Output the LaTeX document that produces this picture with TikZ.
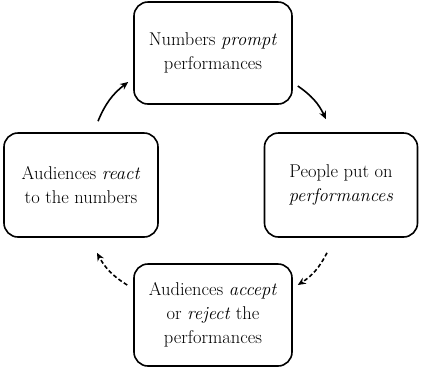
\documentclass[tikz,border=0pt]{standalone}
\usetikzlibrary{calc,arrows.meta}
\begin{document}
\begin{tikzpicture}[x=1pt,y=-1pt,
  box/.style={draw,line width=1.6pt,rounded corners=14pt,minimum width=158pt,minimum height=102pt,align=center,inner sep=0pt,font=\fontsize{18.5}{24}\selectfont},
  arr/.style={-{Stealth[length=8pt,width=7pt]},line width=1.6pt},
  darr/.style={arr,dash pattern=on 4pt off 2.5pt}]
\useasboundingbox (0,0) rectangle (421,368);
\node[box] (top) at (213,53) {Numbers \textit{prompt}\\performances};
\node[box,minimum width=154pt,minimum height=104pt] (left) at (81,185) {Audiences \textit{react}\\to the numbers};
\node[box,minimum width=153pt,minimum height=104pt] (right) at (341,185) {People put on\\\textit{performances}};
\node[box] (bot) at (213,315) {Audiences \textit{accept}\\or \textit{reject} the\\performances};
\draw[arr] ($(left.north)+(17,-11)$) to[bend left=15] ($(top.west)+(-5,29)$);
\draw[arr] ($(top.east)+(5,33)$) to[bend left=15] ($(right.north)+(-15,-13)$);
\draw[darr] ($(right.south)+(-14,15)$) to[bend left=15] ($(bot.east)+(5,-30)$);
\draw[darr] ($(bot.west)+(-6,-30)$) to[bend left=15] ($(left.south)+(16,15)$);
\end{tikzpicture}
\end{document}
